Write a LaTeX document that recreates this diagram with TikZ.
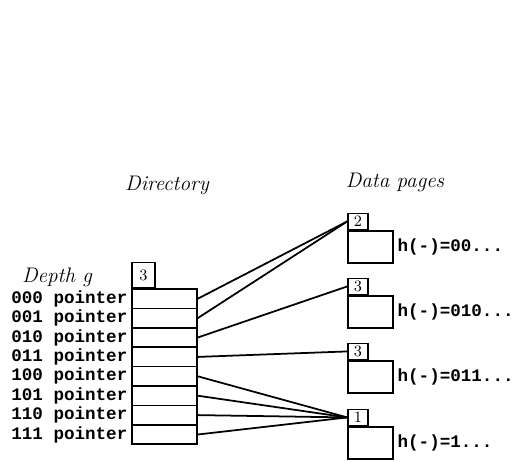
\documentclass[tikz,border=0pt]{standalone}
\usepackage{fontspec}
\setmonofont{Liberation Mono}
\usetikzlibrary{positioning}
\tikzset{
  cell/.style     = {rectangle, draw, line width=0.9pt, minimum width=1.3cm,
                     minimum height=0.388cm, inner sep=0pt},
  depthbox/.style = {rectangle, draw, line width=0.9pt, minimum width=0.46cm,
                     minimum height=0.5cm, inner sep=0pt, font=\small},
  pagebox/.style  = {rectangle, draw, line width=0.9pt, minimum width=0.9cm,
                     minimum height=0.64cm, inner sep=0pt},
  localbox/.style = {rectangle, draw, line width=0.9pt, minimum width=0.4cm,
                     minimum height=0.32cm, inner sep=0pt, font=\small},
  bits/.style     = {font=\ttfamily\bfseries, anchor=east, inner sep=2pt},
  hash/.style     = {font=\ttfamily\bfseries, inner sep=1pt},
  title/.style    = {font=\large\itshape},
  ptr/.style      = {line width=1pt},
}
\begin{document}
\begin{tikzpicture}[x=0.02cm, y=-0.02cm]
  \useasboundingbox (0,0) rectangle (518,461);
  \node[title] (dirtitle) at (167,185) {Directory};
  \node[title] (pagetitle) at (395,182) {Data pages};
  \node[title] (depthlbl) at (57,277) {Depth g};

  % directory: one cell per 3-bit prefix
  \foreach \b [count=\i from 0] in {000,001,010,011,100,101,110,111} {
    \node[cell] (d\i) at (164.5,{298.7+19.4*\i}) {};
    \node[bits] at (d\i.west) {\b\ pointer};
  }
  \node[depthbox, above=0pt of d0.north west, anchor=south west] (gdepth) {3};

  % data pages with local depth
  \foreach \t/\l/\y [count=\j] in {2/00/247, 3/010/312, 3/011/377, 1/1/443} {
    \node[pagebox] (p\j) at (370.5,\y) {};
    \node[localbox, above=0pt of p\j.north west, anchor=south west] (l\j) {\t};
    \node[hash, right=1pt of p\j] (h\j) {h(-)=\l...};
  }

  \foreach \i/\j in {0/1,1/1,2/2,3/3,4/4,5/4,6/4,7/4}
    \draw[ptr] (d\i.east) -- (l\j.west);
\end{tikzpicture}
\end{document}
